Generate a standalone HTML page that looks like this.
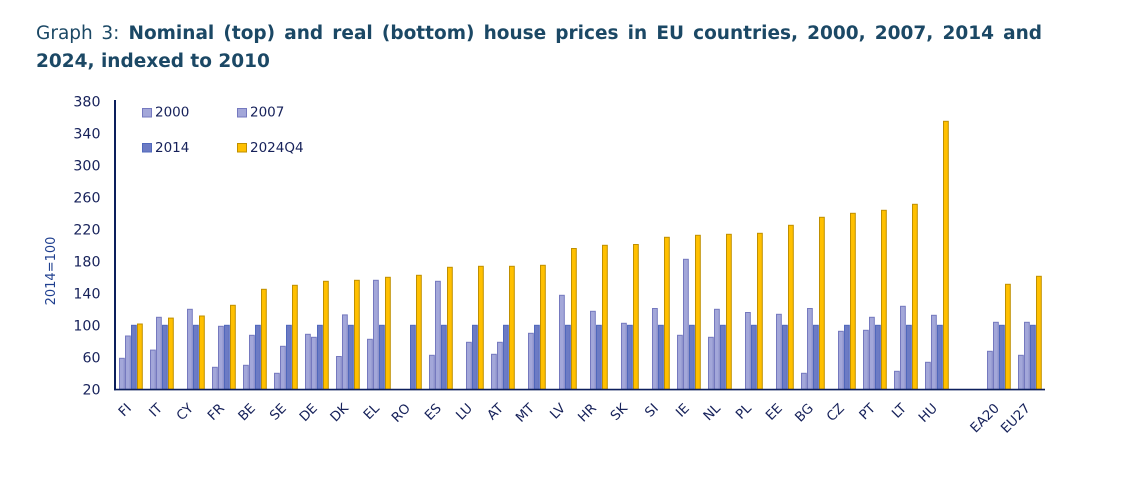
<!DOCTYPE html>
<html>
<head>
<meta charset="utf-8">
<style>
  html,body{margin:0;padding:0;background:#fff;}
  body{width:1126px;height:486px;position:relative;overflow:hidden;}
  .title{position:absolute;left:36px;top:19.6px;width:1006px;font-family:"DejaVu Sans","Liberation Sans",sans-serif;font-weight:bold;font-size:18.5px;line-height:28px;color:#1b4865;}
  .l1{text-align:justify;text-align-last:justify;white-space:normal;}
  .l1 span{font-weight:normal;}
  svg{position:absolute;left:0;top:0;}
  .a{fill:#A3A7D9;stroke:#7579BF;stroke-width:1;}
  .b{fill:#6C7BC4;stroke:#5068BC;stroke-width:1;}
  .c{fill:#FFC000;stroke:#BF8F00;stroke-width:1;}
  text{font-family:"DejaVu Sans","Liberation Sans",sans-serif;fill:#16215a;}
</style>
</head>
<body>
<div class="title">
  <div class="l1"><span>Graph 3:</span> Nominal (top) and real (bottom) house prices in EU countries, 2000, 2007, 2014 and</div>
  <div>2024, indexed to 2010</div>
</div>
<svg width="1126" height="486" viewBox="0 0 1126 486" xmlns="http://www.w3.org/2000/svg">
  <!-- y tick labels -->
  <g font-size="14.2" text-anchor="end">
    <text x="100.5" y="394.5">20</text>
    <text x="100.5" y="362.5">60</text>
    <text x="100.5" y="330.5">100</text>
    <text x="100.5" y="298.5">140</text>
    <text x="100.5" y="266.5">180</text>
    <text x="100.5" y="234.5">220</text>
    <text x="100.5" y="202.5">260</text>
    <text x="100.5" y="170.5">300</text>
    <text x="100.5" y="138.5">340</text>
    <text x="100.5" y="106.5">380</text>
  </g>
  <text x="0" y="0" font-size="13" text-anchor="middle" transform="translate(55,271) rotate(-90)" style="fill:#1f3f8f">2014=100</text>

  <!-- legend -->
  <rect x="142.5" y="108.5" width="9" height="8.5" class="a"/>
  <text x="155" y="116.6" font-size="13.5">2000</text>
  <rect x="237.5" y="108.5" width="9" height="8.5" class="a"/>
  <text x="250" y="116.6" font-size="13.5">2007</text>
  <rect x="142.5" y="143.5" width="9" height="8.5" class="b"/>
  <text x="155" y="152.2" font-size="13.5">2014</text>
  <rect x="237.5" y="143.5" width="9" height="8.5" class="c"/>
  <text x="250" y="152.2" font-size="13.5">2024Q4</text>

  <!-- bars -->
  <g transform="translate(131,0)"><rect class="a" x="-11.5" y="358.3" width="4.8" height="31"/><rect class="a" x="-5.5" y="336" width="4.8" height="53.3"/><rect class="b" x="0.5" y="325.3" width="4.8" height="64"/><rect class="c" x="6.5" y="324" width="4.8" height="65.3"/></g>
  <g transform="translate(162,0)"><rect class="a" x="-11.5" y="350.1" width="4.8" height="39.2"/><rect class="a" x="-5.5" y="317.3" width="4.8" height="72"/><rect class="b" x="0.5" y="325.3" width="4.8" height="64"/><rect class="c" x="6.5" y="318.1" width="4.8" height="71.2"/></g>
  <g transform="translate(193,0)"><rect class="a" x="-5.5" y="309.3" width="4.8" height="80"/><rect class="b" x="0.5" y="325.3" width="4.8" height="64"/><rect class="c" x="6.5" y="316" width="4.8" height="73.3"/></g>
  <g transform="translate(224,0)"><rect class="a" x="-11.5" y="367.3" width="4.8" height="22"/><rect class="a" x="-5.5" y="326.3" width="4.8" height="63"/><rect class="b" x="0.5" y="325.3" width="4.8" height="64"/><rect class="c" x="6.5" y="305.3" width="4.8" height="84"/></g>
  <g transform="translate(255,0)"><rect class="a" x="-11.5" y="365.3" width="4.8" height="24"/><rect class="a" x="-5.5" y="335.3" width="4.8" height="54"/><rect class="b" x="0.5" y="325.3" width="4.8" height="64"/><rect class="c" x="6.5" y="289.3" width="4.8" height="100"/></g>
  <g transform="translate(286,0)"><rect class="a" x="-11.5" y="373.3" width="4.8" height="16"/><rect class="a" x="-5.5" y="346.3" width="4.8" height="43"/><rect class="b" x="0.5" y="325.3" width="4.8" height="64"/><rect class="c" x="6.5" y="285.3" width="4.8" height="104"/></g>
  <g transform="translate(317,0)"><rect class="a" x="-11.5" y="334.3" width="4.8" height="55"/><rect class="a" x="-5.5" y="337.3" width="4.8" height="52"/><rect class="b" x="0.5" y="325.3" width="4.8" height="64"/><rect class="c" x="6.5" y="281.3" width="4.8" height="108"/></g>
  <g transform="translate(348,0)"><rect class="a" x="-11.5" y="356.5" width="4.8" height="32.8"/><rect class="a" x="-5.5" y="314.9" width="4.8" height="74.4"/><rect class="b" x="0.5" y="325.3" width="4.8" height="64"/><rect class="c" x="6.5" y="280.3" width="4.8" height="109"/></g>
  <g transform="translate(379,0)"><rect class="a" x="-11.5" y="339.3" width="4.8" height="50"/><rect class="a" x="-5.5" y="280.3" width="4.8" height="109"/><rect class="b" x="0.5" y="325.3" width="4.8" height="64"/><rect class="c" x="6.5" y="277.3" width="4.8" height="112"/></g>
  <g transform="translate(410,0)"><rect class="b" x="0.5" y="325.3" width="4.8" height="64"/><rect class="c" x="6.5" y="275.3" width="4.8" height="114"/></g>
  <g transform="translate(441,0)"><rect class="a" x="-11.5" y="355.3" width="4.8" height="34"/><rect class="a" x="-5.5" y="281.3" width="4.8" height="108"/><rect class="b" x="0.5" y="325.3" width="4.8" height="64"/><rect class="c" x="6.5" y="267.3" width="4.8" height="122"/></g>
  <g transform="translate(472,0)"><rect class="a" x="-5.5" y="342.3" width="4.8" height="47"/><rect class="b" x="0.5" y="325.3" width="4.8" height="64"/><rect class="c" x="6.5" y="266.3" width="4.8" height="123"/></g>
  <g transform="translate(503,0)"><rect class="a" x="-11.5" y="354.3" width="4.8" height="35"/><rect class="a" x="-5.5" y="342.3" width="4.8" height="47"/><rect class="b" x="0.5" y="325.3" width="4.8" height="64"/><rect class="c" x="6.5" y="266.3" width="4.8" height="123"/></g>
  <g transform="translate(534,0)"><rect class="a" x="-5.5" y="333.3" width="4.8" height="56"/><rect class="b" x="0.5" y="325.3" width="4.8" height="64"/><rect class="c" x="6.5" y="265.3" width="4.8" height="124"/></g>
  <g transform="translate(565,0)"><rect class="a" x="-5.5" y="295.3" width="4.8" height="94"/><rect class="b" x="0.5" y="325.3" width="4.8" height="64"/><rect class="c" x="6.5" y="248.5" width="4.8" height="140.8"/></g>
  <g transform="translate(596,0)"><rect class="a" x="-5.5" y="311.3" width="4.8" height="78"/><rect class="b" x="0.5" y="325.3" width="4.8" height="64"/><rect class="c" x="6.5" y="245.3" width="4.8" height="144"/></g>
  <g transform="translate(627,0)"><rect class="a" x="-5.5" y="323.3" width="4.8" height="66"/><rect class="b" x="0.5" y="325.3" width="4.8" height="64"/><rect class="c" x="6.5" y="244.5" width="4.8" height="144.8"/></g>
  <g transform="translate(658,0)"><rect class="a" x="-5.5" y="308.5" width="4.8" height="80.8"/><rect class="b" x="0.5" y="325.3" width="4.8" height="64"/><rect class="c" x="6.5" y="237.3" width="4.8" height="152"/></g>
  <g transform="translate(689,0)"><rect class="a" x="-11.5" y="335.3" width="4.8" height="54"/><rect class="a" x="-5.5" y="259.3" width="4.8" height="130"/><rect class="b" x="0.5" y="325.3" width="4.8" height="64"/><rect class="c" x="6.5" y="235.3" width="4.8" height="154"/></g>
  <g transform="translate(720,0)"><rect class="a" x="-11.5" y="337.3" width="4.8" height="52"/><rect class="a" x="-5.5" y="309.3" width="4.8" height="80"/><rect class="b" x="0.5" y="325.3" width="4.8" height="64"/><rect class="c" x="6.5" y="234.3" width="4.8" height="155"/></g>
  <g transform="translate(751,0)"><rect class="a" x="-5.5" y="312.5" width="4.8" height="76.8"/><rect class="b" x="0.5" y="325.3" width="4.8" height="64"/><rect class="c" x="6.5" y="233.3" width="4.8" height="156"/></g>
  <g transform="translate(782,0)"><rect class="a" x="-5.5" y="314.3" width="4.8" height="75"/><rect class="b" x="0.5" y="325.3" width="4.8" height="64"/><rect class="c" x="6.5" y="225.3" width="4.8" height="164"/></g>
  <g transform="translate(813,0)"><rect class="a" x="-11.5" y="373.3" width="4.8" height="16"/><rect class="a" x="-5.5" y="308.5" width="4.8" height="80.8"/><rect class="b" x="0.5" y="325.3" width="4.8" height="64"/><rect class="c" x="6.5" y="217.3" width="4.8" height="172"/></g>
  <g transform="translate(844,0)"><rect class="a" x="-5.5" y="331.3" width="4.8" height="58"/><rect class="b" x="0.5" y="325.3" width="4.8" height="64"/><rect class="c" x="6.5" y="213.3" width="4.8" height="176"/></g>
  <g transform="translate(875,0)"><rect class="a" x="-11.5" y="330.3" width="4.8" height="59"/><rect class="a" x="-5.5" y="317.3" width="4.8" height="72"/><rect class="b" x="0.5" y="325.3" width="4.8" height="64"/><rect class="c" x="6.5" y="210.3" width="4.8" height="179"/></g>
  <g transform="translate(906,0)"><rect class="a" x="-11.5" y="371.3" width="4.8" height="18"/><rect class="a" x="-5.5" y="306.3" width="4.8" height="83"/><rect class="b" x="0.5" y="325.3" width="4.8" height="64"/><rect class="c" x="6.5" y="204.3" width="4.8" height="185"/></g>
  <g transform="translate(937,0)"><rect class="a" x="-11.5" y="362.3" width="4.8" height="27"/><rect class="a" x="-5.5" y="315.3" width="4.8" height="74"/><rect class="b" x="0.5" y="325.3" width="4.8" height="64"/><rect class="c" x="6.5" y="121.3" width="4.8" height="268"/></g>
  <g transform="translate(999,0)"><rect class="a" x="-11.5" y="351.3" width="4.8" height="38"/><rect class="a" x="-5.5" y="322.3" width="4.8" height="67"/><rect class="b" x="0.5" y="325.3" width="4.8" height="64"/><rect class="c" x="6.5" y="284.3" width="4.8" height="105"/></g>
  <g transform="translate(1030,0)"><rect class="a" x="-11.5" y="355.3" width="4.8" height="34"/><rect class="a" x="-5.5" y="322.3" width="4.8" height="67"/><rect class="b" x="0.5" y="325.3" width="4.8" height="64"/><rect class="c" x="6.5" y="276.3" width="4.8" height="113"/></g>

  <!-- axes -->
  <line x1="115" y1="100" x2="115" y2="390.3" stroke="#0c1f5c" stroke-width="2"/>
  <line x1="114" y1="389.6" x2="1045" y2="389.6" stroke="#0c1f5c" stroke-width="1.6"/>

  <!-- x labels -->
  <g font-size="13.3" text-anchor="end">
    <text transform="translate(132,409) rotate(-45)">FI</text>
    <text transform="translate(163,409) rotate(-45)">IT</text>
    <text transform="translate(194,409) rotate(-45)">CY</text>
    <text transform="translate(225,409) rotate(-45)">FR</text>
    <text transform="translate(256,409) rotate(-45)">BE</text>
    <text transform="translate(287,409) rotate(-45)">SE</text>
    <text transform="translate(318,409) rotate(-45)">DE</text>
    <text transform="translate(349,409) rotate(-45)">DK</text>
    <text transform="translate(380,409) rotate(-45)">EL</text>
    <text transform="translate(411,409) rotate(-45)">RO</text>
    <text transform="translate(442,409) rotate(-45)">ES</text>
    <text transform="translate(473,409) rotate(-45)">LU</text>
    <text transform="translate(504,409) rotate(-45)">AT</text>
    <text transform="translate(535,409) rotate(-45)">MT</text>
    <text transform="translate(566,409) rotate(-45)">LV</text>
    <text transform="translate(597,409) rotate(-45)">HR</text>
    <text transform="translate(628,409) rotate(-45)">SK</text>
    <text transform="translate(659,409) rotate(-45)">SI</text>
    <text transform="translate(690,409) rotate(-45)">IE</text>
    <text transform="translate(721,409) rotate(-45)">NL</text>
    <text transform="translate(752,409) rotate(-45)">PL</text>
    <text transform="translate(783,409) rotate(-45)">EE</text>
    <text transform="translate(814,409) rotate(-45)">BG</text>
    <text transform="translate(845,409) rotate(-45)">CZ</text>
    <text transform="translate(876,409) rotate(-45)">PT</text>
    <text transform="translate(907,409) rotate(-45)">LT</text>
    <text transform="translate(938,409) rotate(-45)">HU</text>
    <text transform="translate(1000,409) rotate(-45)">EA20</text>
    <text transform="translate(1031,409) rotate(-45)">EU27</text>
  </g>
</svg>
</body>
</html>
